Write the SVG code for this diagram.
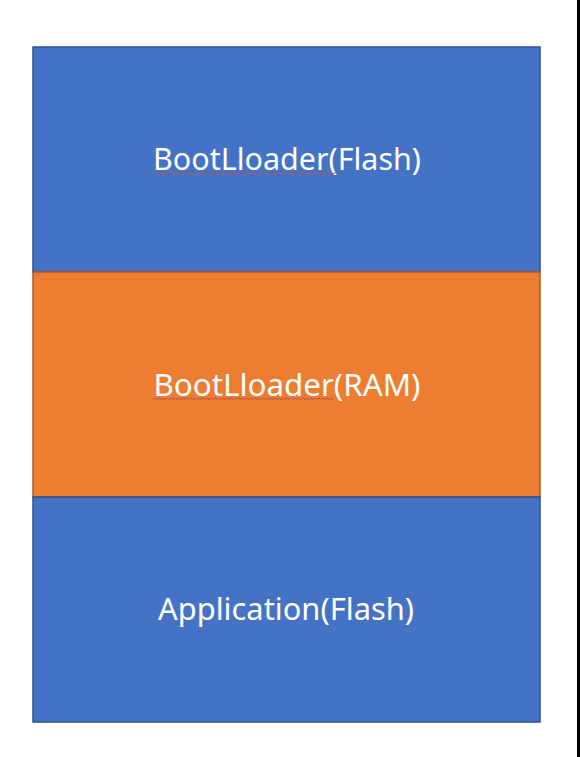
<svg xmlns="http://www.w3.org/2000/svg" width="580" height="757" viewBox="0 0 580 757">
  <style>
    .blue { fill: #4472C4; stroke: #2F528F; stroke-width: 1.5; }
    .orange { fill: #ED7D31; stroke: #AE5A21; stroke-width: 1.5; }
    .label { font-family: "Noto Sans", "Open Sans", sans-serif; font-size: 31.5px; fill: #FFFFFF; text-anchor: middle; }
    .squiggle { fill: none; stroke: #C0504D; stroke-width: 1; }
  </style>
  <rect x="0" y="0" width="580" height="757" fill="#FFFFFF"/>
  <rect x="577" y="0" width="3" height="757" fill="#000000"/>
  <g id="bootloader-flash">
    <rect class="blue" x="33" y="47" width="507" height="225"/>
    <text class="label" x="287" y="170" textLength="268" lengthAdjust="spacingAndGlyphs">BootLloader(Flash)</text>
    <path class="squiggle" d="M153,174 l2,-1.5 l2,1.5 l2,-1.5 l2,1.5 l2,-1.5 l2,1.5 l2,-1.5 l2,1.5 l2,-1.5 l2,1.5 l2,-1.5 l2,1.5 l2,-1.5 l2,1.5 l2,-1.5 l2,1.5 l2,-1.5 l2,1.5 l2,-1.5 l2,1.5 l2,-1.5 l2,1.5 l2,-1.5 l2,1.5 l2,-1.5 l2,1.5 l2,-1.5 l2,1.5 l2,-1.5 l2,1.5 l2,-1.5 l2,1.5 l2,-1.5 l2,1.5 l2,-1.5 l2,1.5 l2,-1.5 l2,1.5 l2,-1.5 l2,1.5 l2,-1.5 l2,1.5 l2,-1.5 l2,1.5 l2,-1.5 l2,1.5 l2,-1.5 l2,1.5 l2,-1.5 l2,1.5 l2,-1.5 l2,1.5 l2,-1.5 l2,1.5 l2,-1.5 l2,1.5 l2,-1.5 l2,1.5 l2,-1.5 l2,1.5 l2,-1.5 l2,1.5 l2,-1.5 l2,1.5 l2,-1.5 l2,1.5 l2,-1.5 l2,1.5 l2,-1.5 l2,1.5 l2,-1.5 l2,1.5 l2,-1.5 l2,1.5 l2,-1.5 l2,1.5 l2,-1.5 l2,1.5 l2,-1.5 l2,1.5 l2,-1.5 l2,1.5 l2,-1.5 l2,1.5 l2,-1.5 l2,1.5 l2,-1.5 l2,1.5 l2,-1.5 l2,1.5 l2,-1.5 l2,1.5"/>
  </g>
  <g id="bootloader-ram">
    <rect class="orange" x="33" y="272" width="507" height="225"/>
    <text class="label" x="287" y="396" textLength="267" lengthAdjust="spacingAndGlyphs">BootLloader(RAM)</text>
    <path class="squiggle" d="M153,399.5 l2,-1.5 l2,1.5 l2,-1.5 l2,1.5 l2,-1.5 l2,1.5 l2,-1.5 l2,1.5 l2,-1.5 l2,1.5 l2,-1.5 l2,1.5 l2,-1.5 l2,1.5 l2,-1.5 l2,1.5 l2,-1.5 l2,1.5 l2,-1.5 l2,1.5 l2,-1.5 l2,1.5 l2,-1.5 l2,1.5 l2,-1.5 l2,1.5 l2,-1.5 l2,1.5 l2,-1.5 l2,1.5 l2,-1.5 l2,1.5 l2,-1.5 l2,1.5 l2,-1.5 l2,1.5 l2,-1.5 l2,1.5 l2,-1.5 l2,1.5 l2,-1.5 l2,1.5 l2,-1.5 l2,1.5 l2,-1.5 l2,1.5 l2,-1.5 l2,1.5 l2,-1.5 l2,1.5 l2,-1.5 l2,1.5 l2,-1.5 l2,1.5 l2,-1.5 l2,1.5 l2,-1.5 l2,1.5 l2,-1.5 l2,1.5 l2,-1.5 l2,1.5 l2,-1.5 l2,1.5 l2,-1.5 l2,1.5 l2,-1.5 l2,1.5 l2,-1.5 l2,1.5 l2,-1.5 l2,1.5 l2,-1.5 l2,1.5 l2,-1.5 l2,1.5 l2,-1.5 l2,1.5 l2,-1.5 l2,1.5 l2,-1.5 l2,1.5 l2,-1.5 l2,1.5 l2,-1.5 l2,1.5 l2,-1.5 l2,1.5 l2,-1.5 l2,1.5"/>
  </g>
  <g id="application-flash">
    <rect class="blue" x="33" y="497" width="507" height="225"/>
    <text class="label" x="286" y="620" textLength="256" lengthAdjust="spacingAndGlyphs">Application(Flash)</text>
  </g>
  <g id="connectors"></g>
</svg>
